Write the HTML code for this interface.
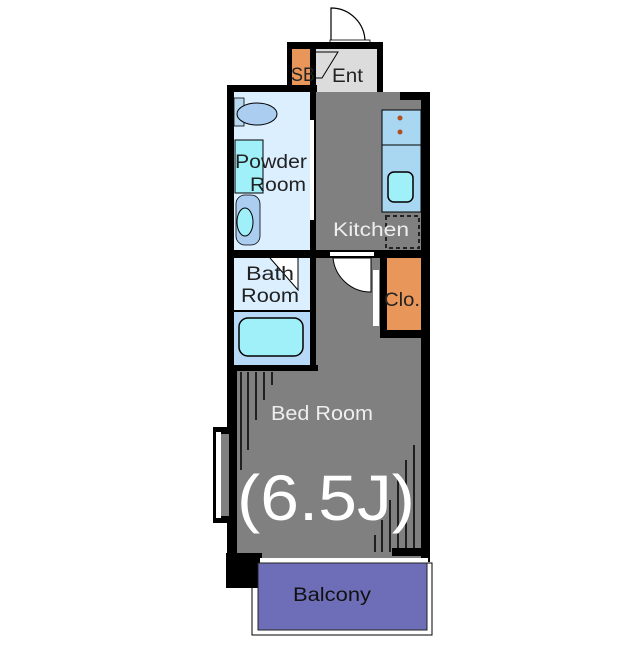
<!DOCTYPE html>
<html><head><style>
body{margin:0;width:640px;height:640px;background:#fff;overflow:hidden;font-family:"Liberation Sans",sans-serif}
</style></head><body>
<svg width="640" height="640" xmlns="http://www.w3.org/2000/svg" font-family="Liberation Sans, sans-serif">
<path d="M331 42 V8 A34 34 0 0 1 365 42" fill="#fff" stroke="#000" stroke-width="1.2"/>
<rect x="330" y="40" width="40" height="4" fill="#fff" stroke="#000" stroke-width="0.8"/>
<rect x="287" y="42" width="96" height="50" fill="#000"/>
<rect x="292" y="49" width="18" height="37" fill="#e8965a"/>
<rect x="316" y="49" width="61" height="43" fill="#dcdcdc"/>
<path d="M316 52 H338 L322 78 H316" fill="none" stroke="#000" stroke-width="1"/>
<text x="291" y="81" font-size="19" fill="#222" textLength="24" lengthAdjust="spacingAndGlyphs">SB</text>
<text x="332" y="82" font-size="19" fill="#222" textLength="31" lengthAdjust="spacingAndGlyphs">Ent</text>
<rect x="227" y="85" width="90" height="285" fill="#000"/>
<rect x="316" y="92" width="114" height="470" fill="#000"/>
<rect x="227" y="365" width="10" height="195" fill="#000"/>
<rect x="316" y="92" width="105" height="160" fill="#808080"/>
<rect x="400" y="92" width="21" height="8" fill="#000"/>
<rect x="382" y="110" width="39" height="102" fill="#a9d6f0" stroke="#000" stroke-width="1"/>
<line x1="382" y1="145" x2="421" y2="145" stroke="#000"/>
<circle cx="400" cy="118" r="2.5" fill="#b05020"/>
<circle cx="400" cy="132" r="2.5" fill="#b05020"/>
<rect x="388" y="172" width="25" height="30" rx="6" fill="#9ff0f8" stroke="#000" stroke-width="1.5"/>
<rect x="386" y="216" width="33" height="32" fill="none" stroke="#222" stroke-dasharray="4 3" stroke-width="2"/>
<text x="333" y="236" font-size="19" fill="#eee" textLength="76" lengthAdjust="spacingAndGlyphs">Kitchen</text>
<rect x="234" y="92" width="76" height="158" fill="#dcefff"/>
<rect x="310" y="120" width="4" height="100" fill="#fff"/>
<rect x="234" y="98" width="10" height="28" fill="#b8d8f0" stroke="#000" stroke-width="0.8"/>
<ellipse cx="257" cy="114" rx="20" ry="11" fill="#aacdf0" stroke="#000" stroke-width="1"/>
<rect x="235" y="140" width="28" height="53" fill="#9ff0f8" stroke="#000" stroke-width="1"/>
<rect x="236" y="195" width="24" height="50" rx="9" fill="#aacdf0" stroke="#000" stroke-width="0.8"/>
<ellipse cx="245" cy="222" rx="8" ry="14" fill="#9ff0f8" stroke="#000"/>
<text x="235" y="168" font-size="19" fill="#222" textLength="72" lengthAdjust="spacingAndGlyphs">Powder</text>
<text x="250" y="191" font-size="19" fill="#222" textLength="56" lengthAdjust="spacingAndGlyphs">Room</text>
<rect x="227" y="250" width="203" height="8" fill="#000"/>
<rect x="316" y="258" width="105" height="300" fill="#808080"/>
<rect x="237" y="365" width="184" height="193" fill="#808080"/>
<rect x="330" y="252" width="44" height="4" fill="#fff"/>
<path d="M333 258 A38 38 0 0 0 371 292 V258 Z" fill="#fff" stroke="#000"/>
<rect x="234" y="258" width="76" height="52" fill="#dcefff"/>
<rect x="234" y="310" width="76" height="55" fill="#b8d8f8"/>
<rect x="234" y="310" width="76" height="2" fill="#000"/>
<rect x="239" y="318" width="64" height="38" rx="9" fill="#9ff0f8" stroke="#000" stroke-width="1.5"/>
<rect x="228" y="365" width="90" height="6" fill="#000"/>
<path d="M270 258 L298 290 V258" fill="#fff" stroke="#000"/>
<text x="246" y="280" font-size="19" fill="#222" textLength="48" lengthAdjust="spacingAndGlyphs">Bath</text>
<text x="241" y="302" font-size="19" fill="#222" textLength="58" lengthAdjust="spacingAndGlyphs">Room</text>
<rect x="380" y="258" width="7" height="80" fill="#000"/>
<rect x="380" y="330" width="41" height="8" fill="#000"/>
<rect x="387" y="258" width="34" height="72" fill="#e8965a"/>
<rect x="373" y="270" width="6" height="56" fill="#fff"/>
<text x="384" y="306" font-size="19" fill="#222" textLength="36" lengthAdjust="spacingAndGlyphs">Clo.</text>
<rect x="213" y="427" width="16" height="96" fill="#000"/>
<rect x="216" y="432" width="5" height="86" fill="#fff"/>
<rect x="221" y="434" width="8" height="82" fill="#808080"/>
<g stroke="#000" stroke-width="1.5">
<line x1="241" y1="372" x2="241" y2="470"/><line x1="248" y1="372" x2="248" y2="450"/>
<line x1="256" y1="372" x2="256" y2="420"/><line x1="264" y1="372" x2="264" y2="400"/>
<line x1="272" y1="372" x2="272" y2="385"/>
<line x1="414" y1="445" x2="414" y2="552"/><line x1="406" y1="460" x2="406" y2="552"/>
<line x1="398" y1="475" x2="398" y2="552"/><line x1="390" y1="500" x2="390" y2="552"/>
<line x1="382" y1="520" x2="382" y2="552"/><line x1="375" y1="535" x2="375" y2="552"/>
</g>
<rect x="392" y="548" width="29" height="8" fill="#000"/>
<text x="271" y="420" font-size="20" fill="#eee" textLength="102" lengthAdjust="spacingAndGlyphs">Bed Room</text>
<text x="237" y="520" font-size="64" fill="#fff" textLength="178" lengthAdjust="spacingAndGlyphs">(6.5J)</text>
<rect x="226" y="553" width="36" height="35" fill="#000"/>
<rect x="260" y="558" width="168" height="5" fill="#fff"/>
<rect x="252" y="563" width="180" height="72" fill="none" stroke="#000" stroke-width="1"/>
<rect x="258" y="563" width="169" height="67" fill="#6e6eb8" stroke="#222" stroke-width="1"/>
<text x="293" y="601" font-size="19" fill="#111" textLength="78" lengthAdjust="spacingAndGlyphs">Balcony</text>
</svg>
</body></html>
